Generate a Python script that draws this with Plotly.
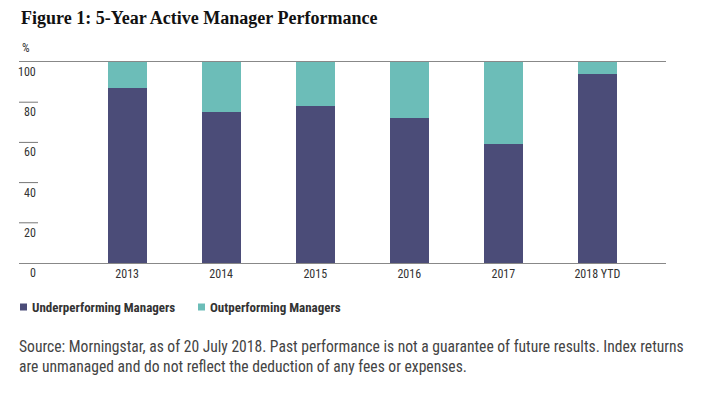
import plotly.graph_objects as go

categories = ["2013", "2014", "2015", "2016", "2017", "2018 YTD"]
underperforming = [87, 75, 78, 72, 59, 94]
outperforming = [13, 25, 22, 28, 41, 6]
ytick_vals = [0, 20, 40, 60, 80, 100]
ytick_text = ["0", "20", "40", "60", "80", "100"]
series_names = ["Underperforming Managers", "Outperforming Managers"]

PURPLE = "#4b4c78"
TEAL = "#6cbdb8"
NARROW = "Roboto Condensed, Liberation Sans Narrow, Roboto, sans-serif"

W, H = 704, 398
L, R, T, B = 19, 38, 62, 135
PW = W - L - R
PH = H - T - B

fig = go.Figure()
fig.add_trace(go.Bar(x=categories, y=underperforming, name=series_names[0],
                     marker=dict(color=PURPLE, line=dict(width=0)), width=0.415, showlegend=False))
fig.add_trace(go.Bar(x=categories, y=outperforming, name=series_names[1],
                     marker=dict(color=TEAL, line=dict(width=0)), width=0.415, showlegend=False))

def px_x(p):
    return (p - L) / PW

def px_y(p):
    return (H - B - p) / PH

annotations = []
annotations.append(dict(text="<b>Figure 1: 5-Year Active Manager Performance</b>",
                        xref="paper", yref="paper", x=px_x(19), y=px_y(18),
                        xanchor="left", yanchor="middle", showarrow=False,
                        font=dict(family="Liberation Serif, DejaVu Serif, serif", size=18, color="#111")))
annotations.append(dict(text="%", xref="paper", yref="paper", x=px_x(20), y=px_y(48),
                        xanchor="left", yanchor="middle", showarrow=False,
                        font=dict(family=NARROW, size=12, color="#333")))
for v, t in zip(ytick_vals, ytick_text):
    annotations.append(dict(text=t, xref="paper", yref="y", x=px_x(38), y=v, yshift=-10,
                            xanchor="right", yanchor="middle", showarrow=False,
                            font=dict(family=NARROW, size=12, color="#333")))
annotations.append(dict(text="Source: Morningstar, as of 20 July 2018. Past performance is not a guarantee of future results. Index returns<br>are unmanaged and do not reflect the deduction of any fees or expenses.",
                        xref="paper", yref="paper", x=px_x(17), y=px_y(357),
                        xanchor="left", yanchor="middle", align="left", showarrow=False,
                        font=dict(family=NARROW, size=15.6, color="#444")))

shapes = []
for v in [20, 40, 60, 80]:
    shapes.append(dict(type="line", xref="paper", yref="y", x0=0, x1=px_x(38), y0=v, y1=v,
                       line=dict(color="#777", width=1)))

legend_items = [(series_names[0], PURPLE, 20), (series_names[1], TEAL, 198)]
for name, col, lx in legend_items:
    shapes.append(dict(type="rect", xref="paper", yref="paper",
                       x0=px_x(lx), x1=px_x(lx + 7), y0=px_y(303.5), y1=px_y(310.5),
                       fillcolor=col, line=dict(width=0)))
    annotations.append(dict(text="<b>" + name + "</b>", xref="paper", yref="paper",
                            x=px_x(lx + 10), y=px_y(307), xanchor="left", yanchor="middle",
                            showarrow=False, font=dict(family=NARROW, size=13, color="#333")))

fig.update_layout(
    width=W, height=H, autosize=False,
    margin=dict(l=L, r=R, t=T, b=B),
    paper_bgcolor="white", plot_bgcolor="white",
    barmode="stack",
    showlegend=False,
    xaxis=dict(range=[-1.15, 5.73], showline=True, mirror=True, linecolor="#888", linewidth=1,
               showgrid=False, ticks="", tickfont=dict(family=NARROW, size=12, color="#333"),
               fixedrange=True),
    yaxis=dict(range=[0, 100], showticklabels=False, showgrid=False, zeroline=False,
               showline=False, ticks="", fixedrange=True),
    annotations=annotations,
    shapes=shapes,
)

fig.write_html("out.html", config={"displayModeBar": False},
               post_script="document.body.style.margin='0';document.body.style.overflow='hidden';")
